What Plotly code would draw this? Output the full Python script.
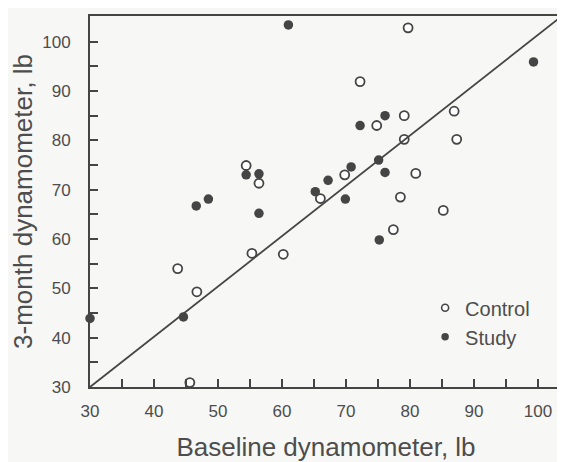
import plotly.graph_objects as go

control_x = [54.4, 56.4, 79.7, 72.2, 86.9, 79.1, 74.8, 79.1, 87.3, 69.8,
             80.9, 66.0, 78.5, 55.3, 60.2, 43.7, 46.7, 45.6, 85.2, 77.4]
control_y = [74.9, 71.3, 102.8, 91.9, 85.9, 85.0, 83.0, 80.2, 80.2, 73.0,
             73.3, 68.2, 68.5, 57.1, 56.9, 54.0, 49.3, 30.9, 65.8, 61.9]

study_x = [61.0, 54.4, 56.4, 65.2, 48.5, 99.3, 76.1, 72.2, 75.1, 70.8,
           67.2, 76.1, 69.9, 46.6, 56.4, 44.6, 30.0, 75.2]
study_y = [103.4, 73.0, 73.2, 69.6, 68.1, 95.9, 85.0, 83.0, 76.0, 74.6,
           71.9, 73.5, 68.1, 66.7, 65.2, 44.2, 43.9, 59.8]

x_ticks = [30, 40, 50, 60, 70, 80, 90, 100]
y_ticks = [30, 40, 50, 60, 70, 80, 90, 100]

INK = "#454545"
TXT = "#4d4d4d"
BG = "#f7f7f5"
FONT = "Liberation Sans, Arial, sans-serif"

fig = go.Figure()
fig.add_trace(go.Scatter(
    x=control_x, y=control_y, mode="markers", name="Control", showlegend=False,
    cliponaxis=False,
    marker=dict(symbol="circle", size=9, color="white", line=dict(color=INK, width=1.8)),
))
fig.add_trace(go.Scatter(
    x=study_x, y=study_y, mode="markers", name="Study", showlegend=False,
    cliponaxis=False,
    marker=dict(symbol="circle", size=9.5, color=INK, line=dict(width=0)),
))
# legend entries
fig.add_trace(go.Scatter(
    x=[None], y=[None], mode="markers", name="Control", legendgroup="c",
    marker=dict(symbol="circle", size=7, color="white", line=dict(color=INK, width=1.6)),
))
fig.add_trace(go.Scatter(
    x=[None], y=[None], mode="markers", name="Study", legendgroup="s",
    marker=dict(symbol="circle", size=7.5, color=INK, line=dict(width=0)),
))

fig.add_shape(type="line", xref="x domain", yref="y domain", x0=0, y0=0, x1=1, y1=1,
              line=dict(color=INK, width=1.8))

axis_common = dict(
    showgrid=False, zeroline=False, showline=True, linecolor=INK, linewidth=2,
    ticks="inside", ticklen=8, tickwidth=1.5, tickcolor=INK,
    tickfont=dict(family=FONT, size=17, color=TXT),
    minor=dict(dtick=5, ticks="inside", ticklen=8, tickwidth=1.5, tickcolor=INK),
)

fig.update_xaxes(**axis_common, range=[30, 103.75], tickmode="array", tickvals=x_ticks,
                 mirror=True, ticklabelstandoff=8,
                 title=dict(text="Baseline dynamometer, lb", standoff=18,
                            font=dict(family=FONT, size=26, color=TXT)))
fig.update_yaxes(**axis_common, range=[30, 105.2], tickmode="array", tickvals=y_ticks,
                 ticklabelstandoff=14,
                 title=dict(text="3-month dynamometer, lb", standoff=4,
                            font=dict(family=FONT, size=26, color=TXT)))

fig.update_layout(
    width=557, height=454,
    margin=dict(l=82, r=3, t=8, b=75, autoexpand=False),
    paper_bgcolor=BG, plot_bgcolor=BG,
    font=dict(family=FONT, color=TXT),
    legend=dict(x=0.71, y=0.266, xanchor="left", yanchor="top",
                bgcolor="rgba(0,0,0,0)", font=dict(family=FONT, size=20, color=TXT),
                tracegroupgap=0, itemwidth=30),
)

fig.write_html("out.html")
